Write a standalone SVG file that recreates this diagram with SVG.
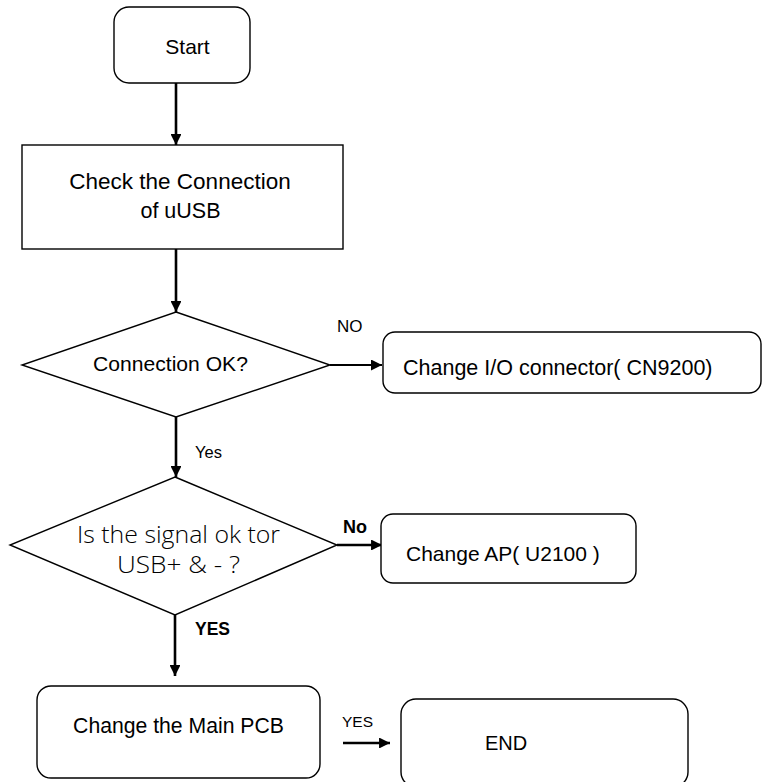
<svg xmlns="http://www.w3.org/2000/svg" width="763" height="782" viewBox="0 0 763 782">
<style>
.box{fill:#fff;stroke:#000;stroke-width:1.4}
.t{font-family:"Liberation Sans",Arial,sans-serif;fill:#000}
.b{font-family:"Liberation Sans",Arial,sans-serif;font-weight:bold;fill:#000}
.l{font-family:"Open Sans","Liberation Sans",sans-serif;font-weight:300;fill:#000}
.c{fill:none;stroke:#000;stroke-width:2.6}
.c2{fill:none;stroke:#000;stroke-width:2}
</style>
<defs>
<marker id="ah" viewBox="0 0 10 10" refX="10" refY="5" markerWidth="4.2" markerHeight="4.2" markerUnits="strokeWidth" orient="auto">
<path d="M0,0 L10,5 L0,10 z" fill="#000"/>
</marker>
<marker id="ah2" viewBox="0 0 10 10" refX="10" refY="5" markerWidth="5.5" markerHeight="5.5" markerUnits="strokeWidth" orient="auto">
<path d="M0,0 L10,5 L0,10 z" fill="#000"/>
</marker>
</defs>
<rect width="763" height="782" fill="#fff"/>
<g id="connectors">
<line class="c" x1="176" y1="83" x2="176" y2="145" marker-end="url(#ah)"/>
<line class="c" x1="176" y1="249" x2="176" y2="312" marker-end="url(#ah)"/>
<line class="c2" x1="330" y1="365" x2="382" y2="365" marker-end="url(#ah2)"/>
<line class="c" x1="176" y1="417" x2="176" y2="477" marker-end="url(#ah)"/>
<line class="c" x1="337" y1="545" x2="382" y2="545" marker-end="url(#ah)"/>
<line class="c" x1="175" y1="615" x2="175" y2="676" marker-end="url(#ah)"/>
<line class="c" x1="343" y1="743" x2="390" y2="743" marker-end="url(#ah)"/>
<text class="t" x="337" y="332" font-size="17">NO</text>
<text class="t" x="195" y="458" font-size="16.5">Yes</text>
<text class="b" x="343" y="533" font-size="18">No</text>
<text class="b" x="195" y="635" font-size="17.5">YES</text>
<text class="t" x="342" y="727" font-size="15.5">YES</text>
</g>
<g id="start">
<rect class="box" x="114" y="7" width="136" height="76" rx="15"/>
<text class="t" x="187.5" y="54" font-size="21" text-anchor="middle">Start</text>
</g>
<g id="check">
<rect class="box" x="22" y="145" width="321" height="104"/>
<text class="t" x="180" y="189" font-size="22.5" text-anchor="middle">Check the Connection</text>
<text class="t" x="180.5" y="218" font-size="21.5" text-anchor="middle">of uUSB</text>
</g>
<g id="conn-ok">
<polygon class="box" points="176,312 330,365 176,417 22,365"/>
<text class="t" x="170.5" y="371" font-size="21.1" text-anchor="middle">Connection OK?</text>
</g>
<g id="change-io">
<rect class="box" x="383" y="332" width="378" height="61" rx="12"/>
<text class="t" x="403" y="375" font-size="21.5">Change I/O connector( CN9200)</text>
</g>
<g id="signal-ok">
<polygon class="box" points="175,477 337,545 175,615 10,545"/>
<text class="l" x="77" y="543" font-size="24" textLength="203" lengthAdjust="spacingAndGlyphs">Is the signal ok tor</text>
<text class="l" x="117" y="573" font-size="24" textLength="123" lengthAdjust="spacingAndGlyphs">USB+ &amp; - ?</text>
</g>
<g id="change-ap">
<rect class="box" x="381" y="514" width="255" height="69" rx="12"/>
<text class="t" x="406" y="561" font-size="21">Change AP( U2100 )</text>
</g>
<g id="main-pcb">
<rect class="box" x="37" y="686" width="283" height="92" rx="14"/>
<text class="t" x="178.5" y="733" font-size="21.2" text-anchor="middle">Change the Main PCB</text>
</g>
<g id="end">
<rect class="box" x="401" y="699" width="287" height="88" rx="15"/>
<text class="t" x="506" y="750" font-size="20" text-anchor="middle">END</text>
</g>
</svg>
